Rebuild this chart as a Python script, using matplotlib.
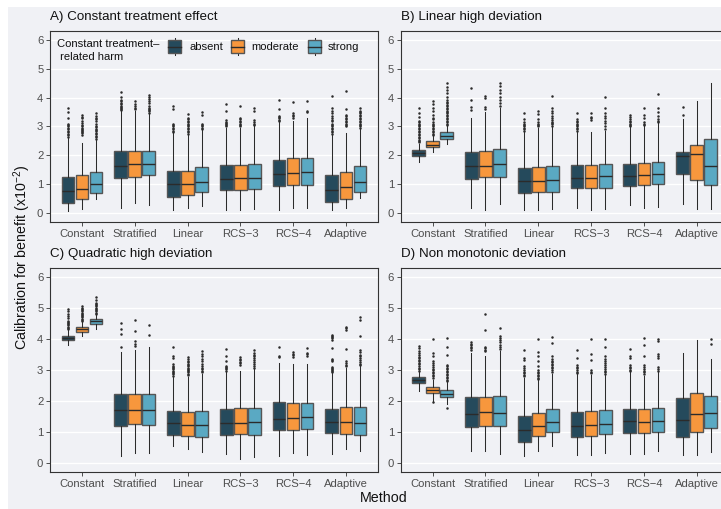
import matplotlib
matplotlib.use("Agg")
import matplotlib.pyplot as plt
from matplotlib.patches import Rectangle
from matplotlib.lines import Line2D

plt.rcParams["font.family"] = ["Liberation Sans", "DejaVu Sans"]
plt.rcParams["mathtext.fontset"] = "custom"
plt.rcParams["mathtext.rm"] = "Liberation Sans"

# ---------------------------------------------------------------- data
methods = ["Constant", "Stratified", "Linear", "RCS\u22123", "RCS\u22124", "Adaptive"]
harm_levels = ["absent", "moderate", "strong"]
harm_colors = ["#254A5C", "#F7973D", "#5AA9C3"]
panel_titles = ["A) Constant treatment effect", "B) Linear high deviation",
                "C) Quadratic high deviation", "D) Non monotonic deviation"]
y_ticks = [0, 1, 2, 3, 4, 5, 6]

# box statistics: rows = methods, columns = absent / moderate / strong
A_q1 = [[0.37, 0.48, 0.71], [1.23, 1.25, 1.31], [0.56, 0.64, 0.74],
        [0.80, 0.82, 0.85], [0.94, 0.97, 0.99], [0.39, 0.51, 0.74]]
A_med = [[0.77, 0.85, 1.02], [1.63, 1.69, 1.71], [1.03, 1.03, 1.08],
         [1.20, 1.22, 1.23], [1.37, 1.40, 1.44], [0.82, 0.91, 1.09]]
A_q3 = [[1.26, 1.31, 1.44], [2.15, 2.17, 2.17], [1.45, 1.47, 1.61],
        [1.68, 1.68, 1.71], [1.84, 1.90, 1.92], [1.34, 1.43, 1.63]]
A_lo = [[0.08, 0.16, 0.51], [0.20, 0.34, 0.28], [0.10, 0.17, 0.25],
        [0.10, 0.10, 0.16], [0.10, 0.17, 0.18], [0.10, 0.18, 0.52]]
A_hi = [[2.61, 2.44, 2.55], [3.52, 3.54, 3.45], [2.76, 2.72, 2.88],
        [2.95, 2.95, 3.00], [3.15, 3.18, 3.28], [2.72, 2.76, 2.93]]
A_out = [
    [[2.65, 2.7, 2.75, 2.8, 2.85, 2.9, 2.95, 3.0, 3.05, 3.1, 3.3, 3.5, 3.64],
     [2.72, 2.76, 2.8, 2.84, 2.88, 2.92, 2.96, 3.0, 3.06, 3.12, 3.2, 3.28, 3.34, 3.4],
     [2.58, 2.63, 2.68, 2.73, 2.78, 2.83, 2.88, 2.93, 2.98, 3.03, 3.1, 3.18, 3.25, 3.3, 3.38, 3.45]],
    [[3.56, 3.6, 3.64, 3.68, 3.72, 3.77, 3.82, 3.87, 3.93, 4.02, 4.18],
     [3.6, 3.64, 3.7, 3.79, 3.87],
     [3.48, 3.52, 3.56, 3.6, 3.65, 3.72, 3.8, 3.88, 3.95, 4.02, 4.1]],
    [[2.8, 2.85, 2.9, 2.95, 3.0, 3.05, 3.1, 3.59, 3.72],
     [2.75, 2.8, 2.85, 2.9, 2.95, 3.0, 3.05, 3.1, 3.15, 3.2, 3.25, 3.3, 3.44],
     [2.92, 2.96, 3.0, 3.04, 3.1, 3.41, 3.49]],
    [[3.0, 3.04, 3.08, 3.12, 3.16, 3.22, 3.53, 3.79],
     [3.0, 3.05, 3.1, 3.15, 3.2, 3.25, 3.3, 3.7],
     [3.05, 3.1, 3.15, 3.22, 3.53, 3.63]],
    [[3.2, 3.24, 3.28, 3.33, 3.38, 3.59, 3.9],
     [3.3, 3.35, 3.4, 3.45, 3.85],
     [3.5, 3.55, 3.87]],
    [[2.75, 2.8, 2.85, 2.9, 2.95, 3.0, 3.05, 3.1, 3.18, 3.24, 3.3, 3.36, 3.45, 3.53, 3.64, 4.07],
     [3.0, 3.05, 3.1, 3.15, 3.2, 3.25, 3.3, 3.35, 3.4, 3.61, 4.22],
     [2.95, 3.0, 3.05, 3.1, 3.15, 3.2, 3.25, 3.3, 3.35, 3.4, 3.45, 3.5, 3.55, 3.64]],
]

B_q1 = [[1.97, 2.29, 2.57], [1.20, 1.25, 1.25], [0.71, 0.73, 0.73],
        [0.87, 0.87, 0.88], [0.94, 0.97, 1.00], [1.35, 1.16, 0.97]]
B_med = [[2.08, 2.37, 2.68], [1.65, 1.65, 1.70], [1.10, 1.12, 1.16],
         [1.21, 1.23, 1.28], [1.29, 1.33, 1.37], [1.99, 2.05, 1.65]]
B_q3 = [[2.20, 2.49, 2.81], [2.11, 2.15, 2.22], [1.55, 1.60, 1.65],
        [1.66, 1.66, 1.71], [1.72, 1.74, 1.78], [2.13, 2.35, 2.57]]
B_lo = [[1.78, 2.12, 2.40], [0.19, 0.10, 0.31], [0.11, 0.11, 0.16],
        [0.17, 0.11, 0.14], [0.29, 0.17, 0.23], [0.31, 0.14, 0.14]]
B_hi = [[2.40, 2.66, 3.00], [3.29, 3.49, 3.63], [2.80, 2.94, 2.97],
        [2.80, 2.80, 2.83], [2.97, 3.02, 3.12], [3.26, 3.88, 4.51]]
B_out = [
    [[2.45, 2.5, 2.55, 2.6, 2.65, 2.7, 2.75, 2.8, 2.85, 2.9, 2.95, 3.0, 3.05, 3.1, 3.15, 3.2, 3.34, 3.46, 3.63],
     [2.7, 2.75, 2.8, 2.85, 2.9, 2.95, 3.0, 3.05, 3.1, 3.15, 3.25, 3.3, 3.4, 3.52, 3.63, 3.78, 3.89],
     [3.05, 3.1, 3.15, 3.2, 3.25, 3.3, 3.35, 3.4, 3.45, 3.5, 3.55, 3.6, 3.65, 3.7, 3.75, 3.8, 3.85,
      3.92, 4.03, 4.15, 4.26, 4.38, 4.51]],
    [[3.57, 3.67, 3.92, 4.32],
     [3.61, 3.67, 3.97, 4.07],
     [3.71, 3.8, 3.92, 4.03, 4.15, 4.26, 4.4, 4.52]],
    [[2.85, 2.9, 2.95, 3.0, 3.05, 3.1, 3.17, 3.25, 3.48],
     [3.0, 3.05, 3.1, 3.17, 3.26, 3.42, 3.52],
     [3.02, 3.07, 3.12, 3.17, 3.21, 3.29, 3.37, 3.46, 3.55, 3.63, 4.05]],
    [[2.85, 2.9, 2.95, 3.0, 3.05, 3.1, 3.15, 3.2, 3.25, 3.48],
     [3.23, 3.28, 3.34, 3.48],
     [2.9, 3.0, 3.12, 3.2, 3.29, 3.37, 3.46, 3.63, 4.03]],
    [[3.0, 3.05, 3.1, 3.15, 3.2, 3.25, 3.32, 3.4],
     [3.05, 3.1, 3.17, 3.29, 3.4, 3.63],
     [3.15, 3.2, 3.25, 3.37, 3.49, 3.63, 4.11]],
    [[3.4, 3.67],
     [],
     []],
]

C_q1 = [[3.98, 4.24, 4.50], [1.20, 1.25, 1.21], [0.91, 0.88, 0.84],
        [0.90, 0.94, 0.91], [1.06, 1.06, 1.08], [0.97, 0.93, 0.91]]
C_med = [[4.04, 4.32, 4.57], [1.70, 1.69, 1.70], [1.28, 1.21, 1.21],
         [1.30, 1.30, 1.32], [1.42, 1.46, 1.47], [1.32, 1.32, 1.30]]
C_q3 = [[4.11, 4.39, 4.65], [2.22, 2.23, 2.22], [1.66, 1.64, 1.66],
        [1.73, 1.76, 1.77], [1.95, 1.94, 1.94], [1.75, 1.81, 1.79]]
C_lo = [[3.81, 4.09, 4.32], [0.22, 0.30, 0.30], [0.54, 0.43, 0.36],
        [0.28, 0.11, 0.20], [0.22, 0.30, 0.26], [0.28, 0.43, 0.38]]
C_hi = [[4.28, 4.54, 4.79], [3.57, 3.65, 3.74], [2.78, 2.76, 2.88],
        [2.95, 2.96, 3.05], [3.22, 3.20, 3.20], [2.90, 3.08, 3.13]]
C_out = [
    [[4.32, 4.36, 4.4, 4.44, 4.48, 4.52, 4.56, 4.6, 4.68, 4.75, 4.82, 4.9, 4.97],
     [4.58, 4.62, 4.66, 4.7, 4.74, 4.78, 4.82, 4.86, 4.9, 4.94, 4.98, 5.02, 5.07],
     [4.82, 4.86, 4.9, 4.94, 4.98, 5.02, 5.06, 5.1, 5.14, 5.18, 5.25, 5.36]],
    [[3.74, 4.16, 4.32, 4.52],
     [3.78, 3.84, 3.95, 4.25, 4.63],
     [4.14, 4.46]],
    [[2.82, 2.86, 2.9, 2.94, 2.98, 3.02, 3.06, 3.1, 3.14, 3.18, 3.38, 3.46, 3.73],
     [2.84, 2.88, 2.92, 2.96, 3.0, 3.04, 3.08, 3.12, 3.16, 3.2, 3.25, 3.3, 3.36, 3.42],
     [2.92, 2.97, 3.02, 3.07, 3.12, 3.2, 3.28, 3.36, 3.44, 3.52, 3.6]],
    [[2.98, 3.02, 3.06, 3.1, 3.14, 3.3, 3.44, 3.68],
     [3.17, 3.22, 3.27, 3.32, 3.37, 3.42],
     [3.08, 3.14, 3.2, 3.26, 3.32, 3.38, 3.44, 3.5, 3.56, 3.65]],
    [[3.42, 3.46, 3.74],
     [3.42, 3.47, 3.52, 3.57],
     [3.46, 3.51, 3.55, 3.71]],
    [[2.92, 2.96, 3.0, 3.04, 3.08, 3.11, 3.28, 3.32, 3.36, 3.71, 3.98, 4.02, 4.06, 4.1, 4.14],
     [3.12, 3.17, 3.22, 3.28, 3.69, 4.3, 4.35, 4.39],
     [3.15, 3.2, 3.26, 3.32, 3.38, 3.44, 3.5, 3.57, 3.65, 4.1, 4.63, 4.7]],
]

D_q1 = [[2.57, 2.27, 2.12], [1.15, 1.20, 1.20], [0.68, 0.88, 0.98],
        [0.83, 0.85, 0.93], [0.97, 0.97, 1.01], [0.84, 1.01, 1.11]]
D_med = [[2.67, 2.36, 2.22], [1.59, 1.63, 1.62], [1.05, 1.19, 1.31],
         [1.19, 1.21, 1.25], [1.36, 1.31, 1.36], [1.38, 1.58, 1.62]]
D_q3 = [[2.77, 2.46, 2.34], [2.12, 2.12, 2.17], [1.51, 1.60, 1.74],
        [1.65, 1.66, 1.70], [1.75, 1.73, 1.78], [2.08, 2.25, 2.15]]
D_lo = [[2.32, 2.00, 1.90], [0.39, 0.38, 0.27], [0.23, 0.38, 0.54],
        [0.25, 0.25, 0.32], [0.28, 0.28, 0.39], [0.25, 0.25, 0.34]]
D_hi = [[2.95, 2.68, 2.60], [3.55, 3.44, 3.60], [2.75, 2.68, 2.88],
        [2.88, 2.84, 2.84], [2.92, 2.82, 2.92], [3.55, 3.98, 3.36]]
D_out = [
    [[2.98, 3.03, 3.08, 3.13, 3.18, 3.23, 3.28, 3.33, 3.38, 3.43, 3.48, 3.55, 3.62, 3.7, 3.78],
     [1.95, 2.74, 2.79, 2.84, 2.89, 2.94, 2.99, 3.04, 3.1, 3.16, 3.22, 3.28, 3.44, 3.55, 4.01],
     [1.77, 2.63, 2.68, 2.73, 2.78, 2.83, 2.88, 2.93, 2.98, 3.03, 3.08, 3.13, 3.17, 3.47, 3.73, 4.05]],
    [[3.65, 3.7, 3.75, 3.8, 3.85, 3.89],
     [3.6, 3.65, 3.7, 3.74, 4.28, 4.82],
     [3.68, 3.75, 3.82, 3.9, 3.98, 4.05, 4.09, 4.36]],
    [[2.79, 2.84, 2.89, 2.94, 3.0, 3.06, 3.14, 3.31, 3.38, 3.65],
     [2.7, 2.75, 2.8, 2.85, 2.9, 2.95, 3.0, 3.14, 3.28, 3.44, 3.57, 4.0],
     [2.95, 3.0, 3.05, 3.1, 3.15, 3.2, 3.25, 3.3, 3.37, 3.44, 3.87, 4.06]],
    [[2.9, 2.95, 3.0, 3.05, 3.1, 3.17, 3.38, 3.65],
     [2.9, 2.95, 3.0, 3.33, 3.52, 4.0],
     [2.86, 2.92, 2.98, 3.04, 3.1, 3.16, 3.22, 3.28, 3.34, 3.44, 3.74, 4.01]],
    [[2.96, 3.0, 3.05, 3.11, 3.17, 3.38, 3.44, 3.68],
     [2.86, 2.92, 2.98, 3.04, 3.1, 3.17, 3.44, 3.82, 4.03],
     [2.96, 3.02, 3.11, 3.38, 3.45, 3.52, 3.95, 4.01]],
    [[],
     [],
     [3.85, 4.01]],
]

panels = [
    (A_q1, A_med, A_q3, A_lo, A_hi, A_out),
    (B_q1, B_med, B_q3, B_lo, B_hi, B_out),
    (C_q1, C_med, C_q3, C_lo, C_hi, C_out),
    (D_q1, D_med, D_q3, D_lo, D_hi, D_out),
]

# ---------------------------------------------------------------- layout
W, H = 721, 509
BG = "#F0F1F5"
TICK_GREY = "#4D4D4D"
DODGE = 0.267
BOX_W = 0.24

fig = plt.figure(figsize=(W / 100, H / 100), dpi=100, facecolor="white")
fig.patches.append(Rectangle((8 / W, 0), 1, 1 - 7 / H, transform=fig.transFigure,
                             facecolor=BG, edgecolor="none", zorder=-10))


def px_rect(x0, y0, x1, y1):
    return [x0 / W, 1 - y1 / H, (x1 - x0) / W, (y1 - y0) / H]


# panel rectangles in pixels (left, top, right, bottom)
rects = [(50.3, 31, 377.5, 222), (401, 31, 728.4, 222),
         (50.3, 268, 377.5, 472), (401, 268, 728.4, 472)]

for p, (q1s, meds, q3s, los, his, outs) in enumerate(panels):
    x0, y0, x1, y1 = rects[p]
    ax = fig.add_axes(px_rect(x0, y0, x1, y1))
    ax.set_facecolor(BG)
    for i in range(len(methods)):
        for j, col in enumerate(harm_colors):
            st = dict(q1=q1s[i][j], med=meds[i][j], q3=q3s[i][j],
                      whislo=los[i][j], whishi=his[i][j], fliers=outs[i][j])
            ax.bxp([st], positions=[i + 1 + (j - 1) * DODGE], widths=BOX_W,
                   patch_artist=True, showcaps=False, manage_ticks=False,
                   boxprops=dict(facecolor=col, edgecolor="#555555", linewidth=1.0),
                   medianprops=dict(color="#2B2B2B", linewidth=1.0),
                   whiskerprops=dict(color="#2B2B2B", linewidth=0.75),
                   flierprops=dict(marker="o", markersize=1.8, markerfacecolor="#2B2B2B",
                                   markeredgecolor="none"))
    ax.set_xlim(0.4, len(methods) + 0.6)
    ax.set_ylim(-0.3, 6.3)
    ax.set_yticks(y_ticks)
    ax.set_yticklabels([str(t) for t in y_ticks])
    ax.set_xticks(range(1, len(methods) + 1))
    ax.set_xticklabels(methods)
    ax.grid(axis="y", color="white", linewidth=1.0)
    ax.set_axisbelow(True)
    ax.tick_params(axis="both", length=3, width=0.6, color="#333333",
                   labelcolor=TICK_GREY, labelsize=8.1, pad=2)
    for sp in ax.spines.values():
        sp.set_color("#333333")
        sp.set_linewidth(0.8)
    fig.text(x0 / W, 1 - (y0 - 14) / H, panel_titles[p], fontsize=9.6,
             ha="left", va="center", color="#111111")

    if p == 0:
        # legend for harm levels inside the first panel
        fig.text(57 / W, 1 - 44 / H, "Constant treatment\u2013", fontsize=8.1,
                 ha="left", va="center", color="#111111")
        fig.text(57 / W, 1 - 57 / H, " related harm", fontsize=8.1,
                 ha="left", va="center", color="#111111")
        key_x = [168, 231, 308]
        lab_x = [189, 251.7, 328]
        for kx, lx, col, lab in zip(key_x, lab_x, harm_colors, harm_levels):
            fig.patches.append(Rectangle((kx / W, 1 - 53 / H), 13 / W, 13 / H,
                                         transform=fig.transFigure, facecolor=col,
                                         edgecolor="#555555", linewidth=1.0, zorder=5))
            cx = (kx + 6.5) / W
            fig.lines.append(Line2D([cx, cx], [1 - 39.5 / H, 1 - 37.5 / H],
                                    transform=fig.transFigure, color="#2B2B2B", lw=0.75))
            fig.lines.append(Line2D([cx, cx], [1 - 53 / H, 1 - 55 / H],
                                    transform=fig.transFigure, color="#2B2B2B", lw=0.75))
            fig.lines.append(Line2D([kx / W, (kx + 13) / W], [1 - 46.5 / H, 1 - 46.5 / H],
                                    transform=fig.transFigure, color="#2B2B2B", lw=1.0,
                                    zorder=6))
            fig.text(lx / W, 1 - 47 / H, lab, fontsize=8.1, ha="left", va="center",
                     color="#111111")

fig.text(22 / W, 1 - 258 / H, "Calibration for benefit (x10$^{\\mathregular{-2}}$)",
         rotation=90, fontsize=10.3, ha="center", va="center", color="#111111")
fig.text(384 / W, 1 - 498 / H, "Method", fontsize=10.3, ha="center", va="center",
         color="#111111")

fig.savefig("out.png", dpi=100, facecolor="white")
